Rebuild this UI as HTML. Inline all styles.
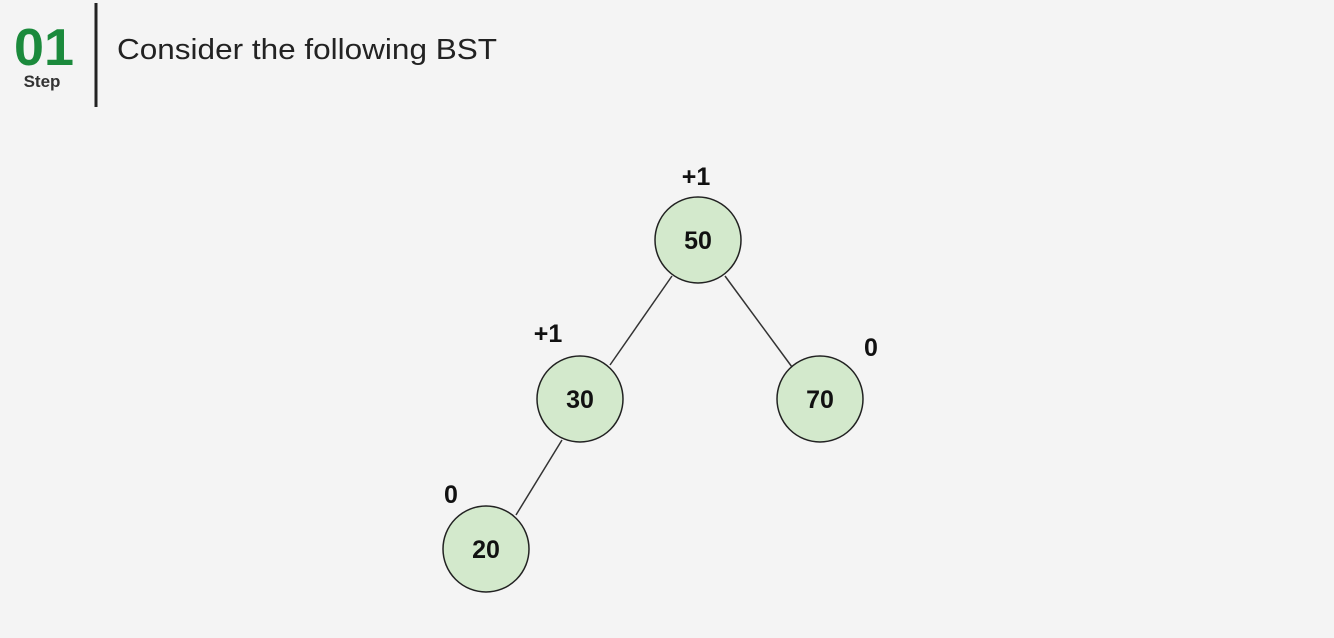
<!DOCTYPE html>
<html><head><style>
html,body{margin:0;padding:0;background:#f4f4f4;}
body{width:1334px;height:638px;position:relative;overflow:hidden;font-family:"Liberation Sans",sans-serif;}
</style></head><body>
<svg width="1334" height="638" viewBox="0 0 1334 638" xmlns="http://www.w3.org/2000/svg" style="position:absolute;left:0;top:0">
<rect width="1334" height="638" fill="#f4f4f4"/>
<text x="14" y="65" font-family="Liberation Sans" font-weight="bold" font-size="52" fill="#1b8a3c" textLength="60" lengthAdjust="spacingAndGlyphs">01</text>
<text x="42" y="87" text-anchor="middle" font-family="Liberation Sans" font-weight="bold" font-size="17" fill="#333">Step</text>
<line x1="96" y1="3" x2="96" y2="107" stroke="#222" stroke-width="3"/>
<text x="117" y="59" font-family="Liberation Sans" font-size="29" fill="#222" textLength="380" lengthAdjust="spacingAndGlyphs">Consider the following BST</text>
<g stroke="#333" stroke-width="1.5">
<line x1="672" y1="276" x2="610" y2="365"/>
<line x1="725" y1="276" x2="792" y2="367"/>
<line x1="562" y1="440" x2="516" y2="515"/>
</g>
<g fill="#d3e9cc" stroke="#222" stroke-width="1.5">
<circle cx="698" cy="240" r="43"/>
<circle cx="580" cy="399" r="43"/>
<circle cx="820" cy="399" r="43"/>
<circle cx="486" cy="549" r="43"/>
</g>
<g font-family="Liberation Sans" font-weight="bold" font-size="25" fill="#111" text-anchor="middle">
<text x="698" y="249">50</text>
<text x="580" y="408">30</text>
<text x="820" y="408">70</text>
<text x="486" y="558">20</text>
<text x="696" y="185">+1</text>
<text x="548" y="342">+1</text>
<text x="871" y="356">0</text>
<text x="451" y="503">0</text>
</g>
</svg>
</body></html>
